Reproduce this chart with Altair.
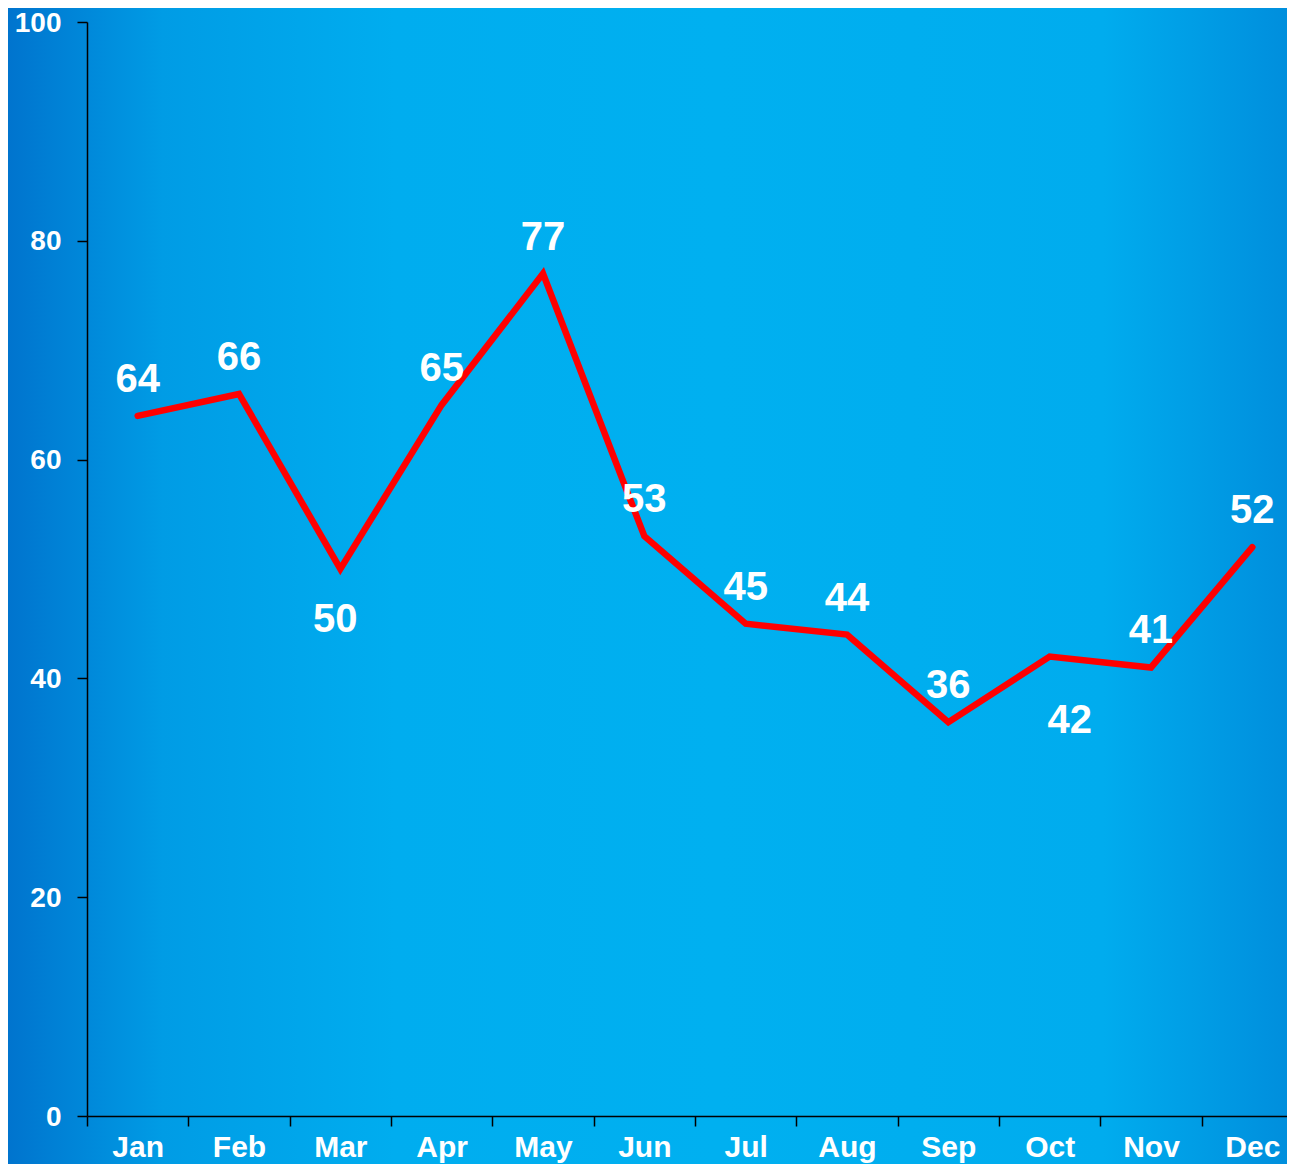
import altair as alt
import pandas as pd

months = ["Jan", "Feb", "Mar", "Apr", "May", "Jun", "Jul", "Aug", "Sep", "Oct", "Nov", "Dec"]
values = [64, 66, 50, 65, 77, 53, 45, 44, 36, 42, 41, 52]
y_ticks = [0, 20, 40, 60, 80, 100]

df = pd.DataFrame({"month": months, "value": values})

W, H = 1200, 1094
PL, PT, PR, PB = 79, 14, 0, 48
FONT = "Liberation Sans"

x_scale = alt.Scale(type="band", domain=months, range=[0, 1216], paddingInner=0, paddingOuter=0)
x_enc = alt.X(
    "month:N",
    sort=months,
    scale=x_scale,
    axis=alt.Axis(
        title=None, labelAngle=0, tickBand="extent", tickSize=10, labelPadding=6,
        labelFontSize=30, labelFont=FONT, labelFontWeight="bold", labelColor="white",
        domainColor="black", tickColor="black", domainWidth=1.5, tickWidth=1.5, zindex=1,
    ),
)
y_enc = alt.Y(
    "value:Q",
    scale=alt.Scale(domain=[0, 100], nice=False),
    axis=alt.Axis(
        title=None, values=y_ticks, grid=False, tickSize=10, labelPadding=16,
        labelFontSize=28, labelFont=FONT, labelFontWeight="bold", labelColor="white",
        labelOffset=1,
        domainColor="black", tickColor="black", domainWidth=1.5, tickWidth=1.5, zindex=1,
    ),
)

bg = alt.Chart(df).mark_rect(
    fill=alt.Gradient(
        gradient="linear", x1=0, x2=1, y1=0, y2=0,
        stops=[
            alt.GradientStop(color="#0074CE", offset=0),
            alt.GradientStop(color="#009CE5", offset=0.12),
            alt.GradientStop(color="#00ADEF", offset=0.3),
            alt.GradientStop(color="#00B0F0", offset=0.55),
            alt.GradientStop(color="#00ACEE", offset=0.85),
            alt.GradientStop(color="#008DDC", offset=1),
        ],
    )
).encode(
    x=alt.value(-PL), x2=alt.value(W + PR + 10),
    y=alt.value(-PT), y2=alt.value(H + PB + 10),
)

line = alt.Chart(df).mark_line(color="#FF0000", strokeWidth=6.5, strokeCap="round", strokeJoin="miter").encode(
    x=x_enc, y=y_enc
)

text_style = dict(font=FONT, fontSize=40, fontWeight="bold", color="white", baseline="middle", align="center")

above = alt.Chart(df).transform_filter(
    "datum.month != 'Mar' && datum.month != 'Oct'"
).mark_text(dy=-36, **text_style).encode(x=x_enc, y=y_enc, text="value:Q")

mar = alt.Chart(df).transform_filter("datum.month == 'Mar'").mark_text(
    dy=51, dx=-5, **text_style
).encode(x=x_enc, y=y_enc, text="value:Q")

octl = alt.Chart(df).transform_filter("datum.month == 'Oct'").mark_text(
    dy=64, dx=20, **text_style
).encode(x=x_enc, y=y_enc, text="value:Q")

chart = alt.layer(bg, line, above, mar, octl).properties(
    width=W, height=H,
    autosize=alt.AutoSizeParams(type="none"),
    padding={"left": PL, "top": PT, "right": PR, "bottom": PB},
    background="#0090E0",
).configure_view(stroke=None)

chart.save("out.html", embed_options={"renderer": "svg", "actions": False})
